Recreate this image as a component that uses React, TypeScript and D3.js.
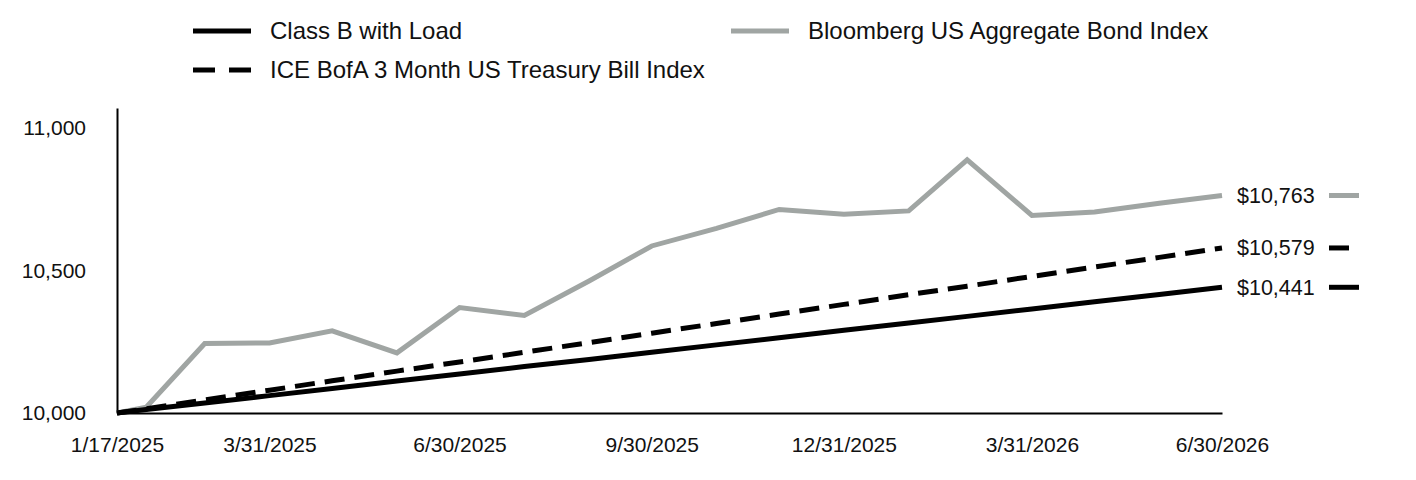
import * as d3 from "d3";
import { useEffect, useRef } from "react";

const dates = [
  "2025-01-17", "2025-01-31", "2025-02-28", "2025-03-31", "2025-04-30",
  "2025-05-31", "2025-06-30", "2025-07-31", "2025-08-31", "2025-09-30",
  "2025-10-31", "2025-11-30", "2025-12-31", "2026-01-31", "2026-02-28",
  "2026-03-31", "2026-04-30", "2026-05-31", "2026-06-30",
];

const classB = [
  10000, 10012, 10035, 10061, 10086, 10112, 10137, 10163, 10188, 10213,
  10239, 10264, 10290, 10316, 10339, 10365, 10390, 10416, 10441,
];

const tbill = [
  10000, 10015, 10046, 10080, 10113, 10147, 10179, 10213, 10247, 10280,
  10314, 10347, 10381, 10415, 10445, 10479, 10512, 10546, 10579,
];

const bloomberg = [
  10000, 10020, 10244, 10246, 10288, 10211, 10370, 10342, 10463, 10586,
  10648, 10714, 10697, 10709, 10888, 10693, 10705, 10736, 10763,
];

const xTicks = [
  "2025-01-17", "2025-03-31", "2025-06-30", "2025-09-30",
  "2025-12-31", "2026-03-31", "2026-06-30",
];
const yTicks = [10000, 10500, 11000];

const GRAY = "#a0a5a3";
const FONT = "'Liberation Sans', Arial, sans-serif";

export default function App() {
  const svgRef = useRef(null);
  const width = 1416;
  const height = 480;

  useEffect(() => {
    if (!svgRef.current) return;
    const svg = d3.select(svgRef.current);
    svg.selectAll("*").remove();

    const parse = d3.utcParse("%Y-%m-%d");
    const x = d3
      .scaleUtc()
      .domain([parse(dates[0])!, parse(dates[dates.length - 1])!])
      .range([117, 1222]);
    const y = d3.scaleLinear().domain([10000, 11070]).range([413, 108]);

    const series = [
      { name: "Class B with Load", values: classB, color: "#000", dash: null },
      { name: "ICE BofA 3 Month US Treasury Bill Index", values: tbill, color: "#000", dash: "20,10" },
      { name: "Bloomberg US Aggregate Bond Index", values: bloomberg, color: GRAY, dash: null },
    ];

    // Legend
    const legend = [
      { s: series[0], x: 193, y: 31 },
      { s: series[2], x: 731, y: 31 },
      { s: series[1], x: 193, y: 70 },
    ];
    const lg = svg.append("g").attr("font-family", FONT).attr("font-size", 24);
    legend.forEach(({ s, x: lx, y: ly }) => {
      lg.append("line")
        .attr("x1", lx)
        .attr("x2", lx + 58)
        .attr("y1", ly)
        .attr("y2", ly)
        .attr("stroke", s.color)
        .attr("stroke-width", 5)
        .attr("stroke-dasharray", s.dash ? "22,14" : null);
      lg.append("text")
        .attr("x", lx + 77)
        .attr("y", ly)
        .attr("dy", "0.35em")
        .attr("fill", "#111")
        .text(s.name);
    });

    // Axes
    const xAxis = svg
      .append("g")
      .attr("transform", `translate(0,413)`)
      .call(
        d3
          .axisBottom(x)
          .tickValues(xTicks.map((d) => parse(d)!))
          // @ts-ignore
          .tickFormat(d3.utcFormat("%-m/%-d/%Y"))
          .tickSize(0)
          .tickSizeOuter(0)
          .tickPadding(24),
      );
    xAxis.select(".domain").attr("stroke", "#000").attr("stroke-width", 2);
    xAxis
      .selectAll("text")
      .attr("font-family", FONT)
      .attr("font-size", 21)
      .attr("fill", "#111");

    const yAxis = svg
      .append("g")
      .attr("transform", `translate(117,0)`)
      .call(
        d3
          .axisLeft(y)
          .tickValues(yTicks)
          .tickFormat(d3.format(","))
          .tickSize(0)
          .tickSizeOuter(0)
          .tickPadding(31),
      );
    yAxis.select(".domain").attr("stroke", "#000").attr("stroke-width", 2);
    yAxis
      .selectAll("text")
      .attr("font-family", FONT)
      .attr("font-size", 21)
      .attr("fill", "#111");

    // Lines
    const line = d3
      .line<number>()
      .x((_, i) => x(parse(dates[i])!))
      .y((d) => y(d));

    [series[2], series[1], series[0]].forEach((s) => {
      svg
        .append("path")
        .datum(s.values)
        .attr("fill", "none")
        .attr("stroke", s.color)
        .attr("stroke-width", 5)
        .attr("stroke-dasharray", s.dash)
        .attr("d", line);
    });

    // End labels
    const endG = svg.append("g").attr("font-family", FONT).attr("font-size", 21.5);
    series.forEach((s) => {
      const last = s.values[s.values.length - 1];
      const ey = y(last);
      endG
        .append("text")
        .attr("x", 1237)
        .attr("y", ey)
        .attr("dy", "0.35em")
        .attr("fill", "#111")
        .text("$" + d3.format(",")(last));
      endG
        .append("line")
        .attr("x1", 1329)
        .attr("x2", s.dash ? 1349 : 1359)
        .attr("y1", ey)
        .attr("y2", ey)
        .attr("stroke", s.color)
        .attr("stroke-width", 5);
    });
  }, []);

  return (
    <div style={{ position: "absolute", left: 0, top: 0 }}>
      <svg
        ref={svgRef}
        width={width}
        height={height}
        viewBox={`0 0 ${width} ${height}`}
        style={{ display: "block", background: "#fff" }}
      />
    </div>
  );
}
